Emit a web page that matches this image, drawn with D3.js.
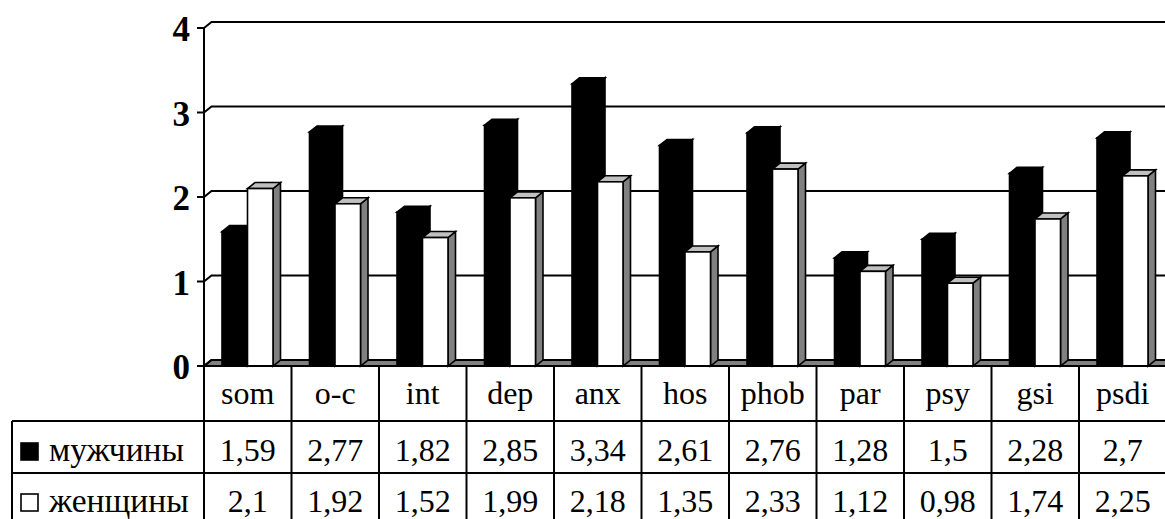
<!DOCTYPE html>
<html>
<head>
<meta charset="utf-8">
<script src="https://d3js.org/d3.v7.min.js"></script>
<style>
  html, body { margin: 0; padding: 0; background: #fff; }
  svg { display: block; }
  svg text { font-family: "Liberation Serif", "Times New Roman", "DejaVu Serif", serif; }
</style>
</head>
<body>
<svg id="chart" width="1165" height="519"></svg>
<script>
// SCL-90 scale scores, men vs women
const categories = ["som", "o-c", "int", "dep", "anx", "hos", "phob", "par", "psy", "gsi", "psdi"];
const seriesNames = ["мужчины", "женщины"];
const men   = [1.59, 2.77, 1.82, 2.85, 3.34, 2.61, 2.76, 1.28, 1.5, 2.28, 2.7];
const women = [2.1, 1.92, 1.52, 1.99, 2.18, 1.35, 2.33, 1.12, 0.98, 1.74, 2.25];
const yTicks = [0, 1, 2, 3, 4];

const svg = d3.select("#chart");
const W = 1165, H = 519;

// geometry of the pseudo-3D plot
const left = 204, cellW = 87.5;
const right = left + categories.length * cellW;
const depthX = 7.5, depthY = 6;
const barOffset = 18, barW = 25.5;

const x = d3.scaleBand().domain(categories).range([left, right]).padding(0);
const y = d3.scaleLinear().domain([0, 4]).range([366, 28]);

const g = svg.append("g");

// floor
const y0 = y(0);
g.append("path")
  .attr("d", `M${left},${y0} L${left + depthX},${y0 - depthY} L${right + depthX},${y0 - depthY} L${right + depthX},${y0} Z`)
  .attr("fill", "#808080").attr("stroke", "#000").attr("stroke-width", 2);

// back-wall gridlines with their diagonal connectors and axis ticks
yTicks.forEach(t => {
  const yf = y(t), yb = yf - depthY;
  g.append("path")
    .attr("d", `M${left - 7},${yf} L${left},${yf} L${left + depthX},${yb} L${W + 20},${yb}`)
    .attr("fill", "none").attr("stroke", "#000").attr("stroke-width", 2);
  g.append("text")
    .attr("x", 190).attr("y", yf + 13)
    .attr("text-anchor", "end")
    .attr("font-weight", "bold").attr("font-size", 35)
    .text(t);
});

// vertical value axis
g.append("line")
  .attr("x1", left).attr("x2", left).attr("y1", y(4)).attr("y2", y0)
  .attr("stroke", "#000").attr("stroke-width", 2);

// a 3D column: front, top and side faces
function column(x0, v, front, top, side) {
  const yt = y(v);
  const x1 = x0 + barW;
  const grp = g.append("g").attr("stroke", "#000").attr("stroke-width", 1.6).attr("stroke-linejoin", "miter");
  grp.append("path")
    .attr("d", `M${x1},${yt} L${x1 + depthX},${yt - depthY} L${x1 + depthX},${y0 - depthY} L${x1},${y0} Z`)
    .attr("fill", side);
  grp.append("path")
    .attr("d", `M${x0},${yt} L${x0 + depthX},${yt - depthY} L${x1 + depthX},${yt - depthY} L${x1},${yt} Z`)
    .attr("fill", top);
  grp.append("rect")
    .attr("x", x0).attr("y", yt).attr("width", barW).attr("height", y0 - yt)
    .attr("fill", front);
}

categories.forEach((c, i) => {
  const cx = x(c);
  column(cx + barOffset, men[i], "#000", "#000", "#000");
  column(cx + barOffset + barW, women[i], "#fff", "#c0c0c0", "#808080");
});

// data table under the plot
const rowTop = [366, 421, 473, 525];
const tableLeft = 12;
const tg = svg.append("g").attr("stroke", "#000").attr("stroke-width", 2);
// horizontal rules
tg.append("line").attr("x1", left).attr("x2", W + 10).attr("y1", rowTop[0]).attr("y2", rowTop[0]);
tg.append("line").attr("x1", tableLeft).attr("x2", W + 10).attr("y1", rowTop[1]).attr("y2", rowTop[1]);
tg.append("line").attr("x1", tableLeft).attr("x2", W + 10).attr("y1", rowTop[2]).attr("y2", rowTop[2]);
// vertical rules
tg.append("line").attr("x1", tableLeft).attr("x2", tableLeft).attr("y1", rowTop[1]).attr("y2", H + 5);
d3.range(categories.length + 1).forEach(k => {
  const xv = left + k * cellW;
  tg.append("line").attr("x1", xv).attr("x2", xv).attr("y1", rowTop[0]).attr("y2", H + 5);
});

const fmt = v => String(v).replace(".", ",");
const txt = svg.append("g").attr("font-size", 32).attr("text-anchor", "middle");
categories.forEach((c, i) => {
  const mx = x(c) + cellW / 2;
  txt.append("text").attr("x", mx).attr("y", 404).text(c);
  txt.append("text").attr("x", mx).attr("y", 461).text(fmt(men[i]));
  txt.append("text").attr("x", mx).attr("y", 512).text(fmt(women[i]));
});

// legend keys inside the table
const legendFills = ["#000", "#fff"];
const legendY = [461, 512];
seriesNames.forEach((name, k) => {
  svg.append("rect")
    .attr("x", 21).attr("y", legendY[k] - 18).attr("width", 17).attr("height", 17)
    .attr("fill", legendFills[k]).attr("stroke", "#000").attr("stroke-width", 1.6);
  svg.append("text")
    .attr("x", 49).attr("y", legendY[k])
    .attr("font-size", 33.5)
    .text(name);
});
</script>
</body>
</html>
